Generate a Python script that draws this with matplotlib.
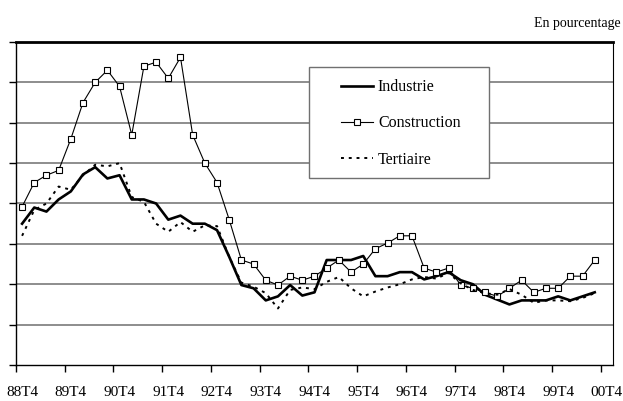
import numpy as np
import matplotlib.pyplot as plt
from matplotlib.patches import Rectangle

# trimestres 88T4 .. 00T3
tick_labels = ['88T4', '89T4', '90T4', '91T4', '92T4', '93T4', '94T4',
               '95T4', '96T4', '97T4', '98T4', '99T4', '00T4']

industrie = [17.5, 19.5, 19.0, 20.5, 21.5, 23.6, 24.5, 23.1, 23.5, 20.5,
             20.5, 20.0, 18.0, 18.5, 17.5, 17.5, 16.7, 13.4, 9.9, 9.5,
             8.0, 8.5, 9.9, 8.6, 9.0, 13.0, 13.0, 13.0, 13.5, 11.0,
             11.0, 11.5, 11.5, 10.6, 11.0, 11.5, 10.5, 10.0, 8.7, 8.1,
             7.5, 8.0, 8.0, 8.0, 8.5, 8.0, 8.5, 9.0]
construction = [19.6, 22.6, 23.5, 24.1, 28.0, 32.5, 35.0, 36.5, 34.5, 28.5,
                37.0, 37.5, 35.5, 38.1, 28.5, 25.0, 22.6, 18.0, 13.0, 12.5,
                10.5, 9.9, 11.0, 10.5, 11.0, 12.0, 13.0, 11.5, 12.5, 14.4,
                15.1, 16.0, 16.0, 12.0, 11.5, 12.0, 9.9, 9.5, 9.0, 8.5,
                9.5, 10.5, 9.0, 9.5, 9.5, 11.0, 11.0, 13.0]
tertiaire = [16.0, 19.2, 20.0, 22.1, 21.7, 23.5, 24.8, 24.6, 25.0, 20.8,
             20.2, 17.5, 16.5, 17.7, 16.5, 17.3, 17.2, 13.4, 10.2, 9.7,
             8.9, 7.0, 9.3, 9.6, 9.4, 10.3, 10.9, 9.5, 8.5, 9.1,
             9.6, 10.0, 10.6, 10.9, 10.7, 11.4, 10.1, 9.3, 8.9, 8.7,
             9.4, 8.7, 7.7, 8.0, 8.0, 7.9, 8.3, 8.9]

plt.rcParams['font.family'] = ['Liberation Serif', 'DejaVu Serif']

fig = plt.figure(figsize=(6.23, 4.01), dpi=100)
ax = fig.add_axes([16 / 623, 36 / 401, 597 / 623, 323 / 401])

x = np.arange(len(industrie))
l1, = ax.plot(x, industrie, color='black', lw=1.9, label='Industrie')
l2, = ax.plot(x, construction, color='black', lw=0.8, marker='s', ms=4,
              mfc='white', mec='black', mew=0.8, label='Construction')
l3, = ax.plot(x, tertiaire, color='black', lw=1.4, ls=(0, (1.5, 2.5)),
              label='Tertiaire')

ax.set_xlim(-0.5, 48.5)
ax.set_ylim(0, 40)
ax.set_yticks(np.arange(0, 41, 5))
ax.set_yticklabels([])
for yv in np.arange(5, 40, 5):
    ax.axhline(yv, color='#7a7a7a', lw=1.2, zorder=0)

ax.set_xticks(np.arange(0, 49, 4))
ax.set_xticklabels(tick_labels, fontsize=11)
ax.set_xticks(np.arange(-0.5, 48, 4), minor=True)
ax.tick_params(axis='x', which='major', length=0, pad=15)
ax.tick_params(axis='x', which='minor', length=5, width=1, direction='out')
ax.tick_params(axis='y', length=5, width=1, direction='out')

for s in ['left', 'bottom', 'right']:
    ax.spines[s].set_linewidth(1.0)
ax.spines['right'].set_linewidth(0.8)
ax.spines['top'].set_linewidth(2.0)

# cadre de la légende
fig.patches.append(Rectangle((309 / 623, 1 - 178 / 401), 180 / 623, 111 / 401,
                             transform=fig.transFigure, facecolor='white',
                             edgecolor='#707070', lw=1.0, zorder=5))
leg = fig.legend(handles=[l1, l2, l3], loc='upper left',
                 bbox_to_anchor=(330 / 623, 1 - 68 / 401), frameon=False,
                 fontsize=11.5, handlelength=2.0, handletextpad=0.3,
                 labelspacing=1.27, borderpad=0.2)
leg.set_zorder(6)

fig.text(621 / 623, 1 - 23 / 401, 'En pourcentage', ha='right', va='center',
         fontsize=10)

fig.savefig('out.png', dpi=100)
